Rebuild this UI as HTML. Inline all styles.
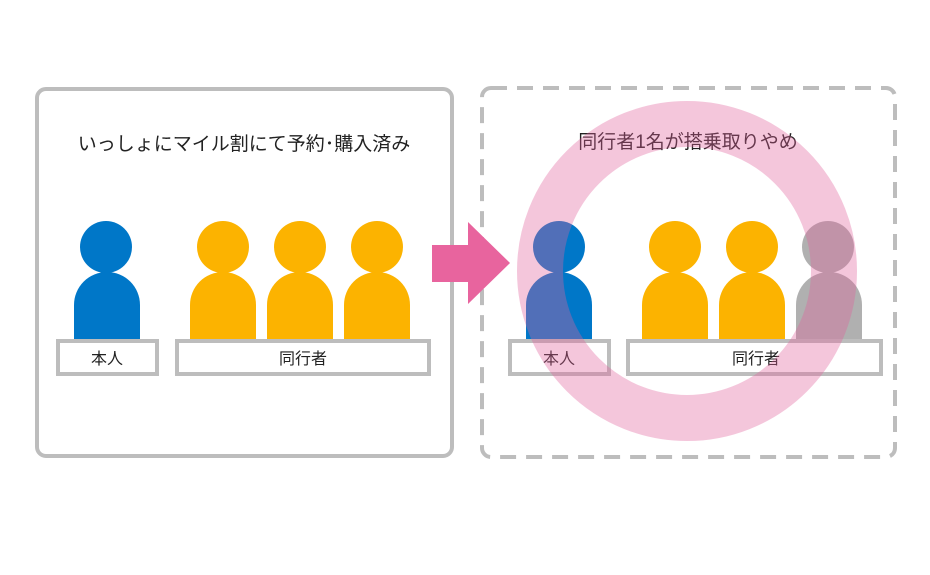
<!DOCTYPE html>
<html><head><meta charset="utf-8"><style>
body{margin:0;background:#fff;}
svg{display:block;}
text{font-family:"Liberation Sans","Noto Sans CJK JP",sans-serif;fill:#222;}
</style></head><body>
<svg width="930" height="575" viewBox="0 0 930 575">
<rect x="37" y="89" width="415" height="367" rx="9" fill="#fff" stroke="#bdbdbd" stroke-width="4"/>
<rect x="482" y="88" width="413" height="369" rx="9" fill="#fff" stroke="#bdbdbd" stroke-width="4" stroke-dasharray="16,10"/>
<text x="244" y="150" font-size="19" text-anchor="middle">いっしょにマイル割にて予約･購入済み</text>
<text x="688" y="148" font-size="19" text-anchor="middle">同行者1名が搭乗取りやめ</text>
<g fill="#0077c8"><circle cx="106" cy="247" r="26"/><path d="M74,339 V305 a33,33 0 0 1 66,0 V339Z"/></g>
<g fill="#fcb300">
<circle cx="223" cy="247" r="26"/><path d="M190,339 V305 a33,33 0 0 1 66,0 V339Z"/>
<circle cx="300" cy="247" r="26"/><path d="M267,339 V305 a33,33 0 0 1 66,0 V339Z"/>
<circle cx="377" cy="247" r="26"/><path d="M344,339 V305 a33,33 0 0 1 66,0 V339Z"/>
</g>
<rect x="58" y="341" width="99" height="33" fill="#fff" stroke="#bdbdbd" stroke-width="4"/>
<rect x="177" y="341" width="252" height="33" fill="#fff" stroke="#bdbdbd" stroke-width="4"/>
<text x="107" y="364" font-size="16" text-anchor="middle">本人</text>
<text x="303" y="364" font-size="16" text-anchor="middle">同行者</text>
<path d="M432,245 H468 V222 L510,263 L468,304 V282 H432Z" fill="#e8649e"/>
<g fill="#0077c8"><circle cx="559" cy="247" r="26"/><path d="M526,339 V305 a33,33 0 0 1 66,0 V339Z"/></g>
<g fill="#fcb300">
<circle cx="675" cy="247" r="26"/><path d="M642,339 V305 a33,33 0 0 1 66,0 V339Z"/>
<circle cx="752" cy="247" r="26"/><path d="M719,339 V305 a33,33 0 0 1 66,0 V339Z"/>
</g>
<g fill="#b0b0b0"><circle cx="828" cy="247" r="26"/><path d="M796,339 V305 a33,33 0 0 1 66,0 V339Z"/></g>
<rect x="510" y="341" width="99" height="33" fill="#fff" stroke="#bdbdbd" stroke-width="4"/>
<rect x="628" y="341" width="253" height="33" fill="#fff" stroke="#bdbdbd" stroke-width="4"/>
<text x="559" y="364" font-size="16" text-anchor="middle">本人</text>
<text x="756" y="364" font-size="16" text-anchor="middle">同行者</text>
<circle cx="687" cy="271" r="147" fill="none" stroke="#e0609a" stroke-opacity="0.36" stroke-width="46"/>
</svg>
</body></html>
